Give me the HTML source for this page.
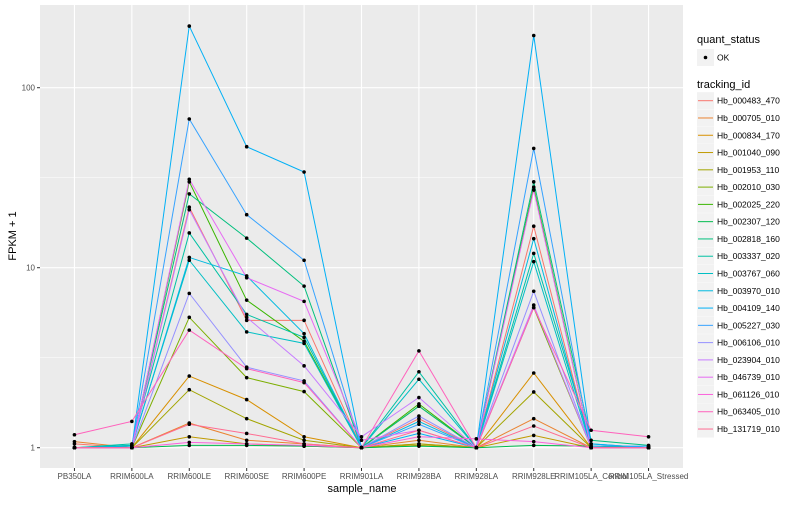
<!DOCTYPE html>
<html><head><meta charset="utf-8"><style>
body{margin:0;background:#fff;font-family:"Liberation Sans",sans-serif}
svg text{font-family:"Liberation Sans",sans-serif}
</style></head><body>
<svg id="c" width="800" height="500" xmlns="http://www.w3.org/2000/svg"></svg>
<script>
const categories=["PB350LA","RRIM600LA","RRIM600LE","RRIM600SE","RRIM600PE","RRIM901LA","RRIM928BA","RRIM928LA","RRIM928LE","RRIM105LA_Control","RRIM105LA_Stressed"];
const seriesNames=["Hb_000483_470","Hb_000705_010","Hb_000834_170","Hb_001040_090","Hb_001953_110","Hb_002010_030","Hb_002025_220","Hb_002307_120","Hb_002818_160","Hb_003337_020","Hb_003767_060","Hb_003970_010","Hb_004109_140","Hb_005227_030","Hb_006106_010","Hb_023904_010","Hb_046739_010","Hb_061126_010","Hb_063405_010","Hb_131719_010"];
const colors=["#F8766D","#EA8331","#D89000","#C09B00","#A3A500","#7CAE00","#39B600","#00BB4E","#00BF7D","#00C1A3","#00BFC4","#00BAE0","#00B0F6","#35A2FF","#9590FF","#C77CFF","#E76BF3","#FA62DB","#FF62BC","#FF6C91"];
const s01=[1.05,1.0,21.7,5.1,5.1,1.0,1.45,1.0,17,1.0,1.0];
const s02=[1.08,1.0,1.37,1.1,1.05,1.0,1.1,1.0,1.45,1.0,1.0];
const s03=[1.0,1.0,2.5,1.85,1.15,1.0,1.05,1.0,2.6,1.0,1.0];
const s04=[1.0,1.0,1.15,1.05,1.02,1.0,1.03,1.0,1.17,1.0,1.0];
const s05=[1.0,1.0,2.1,1.45,1.1,1.0,1.05,1.0,2.04,1.0,1.0];
const s06=[1.0,1.0,5.3,2.45,2.05,1.0,1.7,1.0,6.0,1.0,1.0];
const s07=[1.0,1.0,30,6.6,3.9,1.0,1.75,1.0,28,1.0,1.0];
const s08=[1.0,1.0,1.03,1.03,1.02,1.0,1.02,1.0,1.03,1.02,1.0];
const s09=[1.0,1.03,25.7,14.6,7.9,1.0,1.7,1.0,30,1.1,1.03];
const s10=[1.0,1.05,15.6,5.5,4.1,1.0,2.64,1.0,12,1.05,1.0];
const s11=[1.0,1.03,11,4.4,3.8,1.0,2.4,1.0,10.8,1.0,1.0];
const s12=[1.0,1.02,11.4,9.0,4.3,1.0,1.4,1.0,14.5,1.0,1.0];
const s13=[1.0,1.0,220,47,34,1.0,1.2,1.0,195,1.05,1.0];
const s14=[1.0,1.0,67,19.7,11,1.0,1.35,1.0,46,1.02,1.02];
const s15=[1.0,1.0,7.2,2.8,2.35,1.0,1.5,1.0,7.4,1.0,1.0];
const s16=[1.0,1.0,21,5.3,2.85,1.15,1.9,1.0,6.2,1.0,1.0];
const s17=[1.0,1.0,31,8.8,6.5,1.1,1.25,1.0,27,1.0,1.0];
const s18=[1.0,1.0,1.07,1.05,1.03,1.0,1.15,1.12,1.08,1.0,1.0];
const s19=[1.18,1.4,4.5,2.75,2.3,1.0,3.45,1.0,6.0,1.25,1.15];
const s20=[1.0,1.0,1.35,1.2,1.05,1.0,1.25,1.0,1.32,1.0,1.0];
const seriesValues=[s01,s02,s03,s04,s05,s06,s07,s08,s09,s10,s11,s12,s13,s14,s15,s16,s17,s18,s19,s20];
const yTicks=[1,10,100];
const yTickLabels=["1","10","100"];

const NS="http://www.w3.org/2000/svg";
const svg=document.getElementById('c');
function mk(t,a,p){const e=document.createElementNS(NS,t);for(const k in a)e.setAttribute(k,a[k]);(p||svg).appendChild(e);return e;}
const L=40,R=683,T=5,B=468;
const step=(R-L)/(categories.length-1+1.2);
function xs(i){return L+step*(0.6+i);}
function ys(v){return 447.7-180*Math.log10(v);}

const bg=mk('rect',{x:L,y:T,width:R-L,height:B-T,fill:'#EBEBEB'});


[Math.sqrt(10),Math.sqrt(1000)].forEach(v=>{mk('line',{x1:L,x2:R,y1:ys(v),y2:ys(v),stroke:'#fff','stroke-width':0.5});});
yTicks.forEach((v,i)=>{
  const g=mk('line',{x1:L,x2:R,y1:ys(v),y2:ys(v),stroke:'#fff','stroke-width':1.1});
  
  
  mk('line',{x1:L-3,x2:L,y1:ys(v),y2:ys(v),stroke:'#333','stroke-width':1});
  const t=mk('text',{x:L-5,y:ys(v)+3,'text-anchor':'end','font-size':8,fill:'#4D4D4D'});
  t.textContent=yTickLabels[i];
  
  
});
categories.forEach((c,i)=>{
  const g=mk('line',{x1:xs(i),x2:xs(i),y1:T,y2:B,stroke:'#fff','stroke-width':1.1});
  
  
  mk('line',{x1:xs(i),x2:xs(i),y1:B,y2:B+3,stroke:'#333','stroke-width':1});
  const t=mk('text',{x:xs(i),y:479,'text-anchor':'middle','font-size':8,fill:'#4D4D4D'});
  t.textContent=c;
  
  
});
seriesValues.forEach((vals,si)=>{
  const p=mk('polyline',{points:vals.map((v,i)=>xs(i)+','+ys(v)).join(' '),fill:'none',stroke:colors[si],'stroke-width':1});
  
  
});
seriesValues.forEach((vals,si)=>{
  vals.forEach((v,i)=>{
    const c=mk('circle',{cx:xs(i),cy:ys(v),r:1.8,fill:'#000'});
    
    
  });
});
let t=mk('text',{x:362,y:492,'text-anchor':'middle','font-size':11,fill:'#000'});
t.textContent='sample_name';


t=mk('text',{x:0,y:0,'text-anchor':'middle','font-size':11,fill:'#000',transform:'translate(16,236) rotate(-90)'});
t.textContent='FPKM + 1';


t=mk('text',{x:697,y:43,'font-size':11,fill:'#000'});
t.textContent='quant_status';


mk('rect',{x:697,y:49,width:17,height:17,fill:'#F2F2F2'});
mk('circle',{cx:705.5,cy:57.5,r:1.8,fill:'#000'});
t=mk('text',{x:717,y:60.5,'font-size':8.5,fill:'#000'});
t.textContent='OK';


t=mk('text',{x:697,y:88,'font-size':11,fill:'#000'});
t.textContent='tracking_id';


seriesNames.forEach((n,i)=>{
  const y=100.7+i*17.28;
  mk('rect',{x:697,y:y-8.5,width:17,height:17,fill:'#F2F2F2'});
  mk('line',{x1:698,x2:713,y1:y,y2:y,stroke:colors[i],'stroke-width':1});
  const tt=mk('text',{x:717,y:y+3,'font-size':8.5,fill:'#000'});
  tt.textContent=n;
  
  
});
</script>
</body></html>
